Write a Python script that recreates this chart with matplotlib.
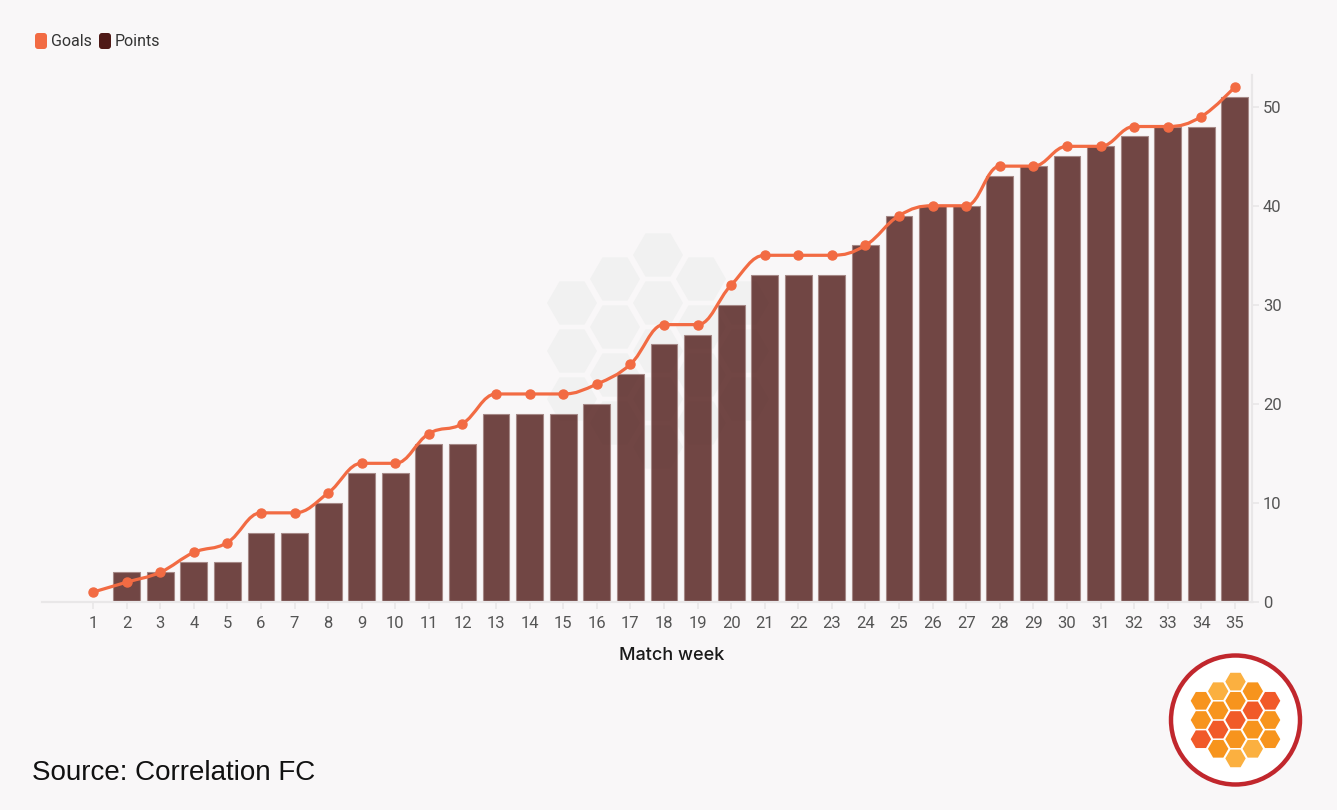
"""Cumulative goals and points by match week."""
import matplotlib
matplotlib.use("Agg")
import matplotlib.pyplot as plt
import numpy as np
from matplotlib.colors import to_rgba
from matplotlib.path import Path
from matplotlib.patches import PathPatch, RegularPolygon, Circle, FancyBboxPatch

weeks = list(range(1, 36))
points = [0, 3, 3, 4, 4, 7, 7, 10, 13, 13, 16, 16, 19, 19, 19, 20, 23, 26, 27, 30,
          33, 33, 33, 36, 39, 40, 40, 43, 44, 45, 46, 47, 48, 48, 51]
goals = [1, 2, 3, 5, 6, 9, 9, 11, 14, 14, 17, 18, 21, 21, 21, 22, 24, 28, 28, 32,
         35, 35, 35, 36, 39, 40, 40, 44, 44, 46, 46, 48, 48, 49, 52]
y_ticks = [0, 10, 20, 30, 40, 50]

BG = "#f9f7f8"
LINE = "#f26b43"
LEG_POINTS = "#4f1a17"


def spline_path(xs, ys, smoothing=1.5):
    """Highcharts-style spline through the points as a bezier path."""
    n = len(xs)
    lc = [(x, y) for x, y in zip(xs, ys)]
    rc = [(x, y) for x, y in zip(xs, ys)]
    denom = smoothing + 1
    for i in range(1, n - 1):
        px, py = xs[i], ys[i]
        lx, ly = xs[i - 1], ys[i - 1]
        nx, ny = xs[i + 1], ys[i + 1]
        lcx = (smoothing * px + lx) / denom
        lcy = (smoothing * py + ly) / denom
        rcx = (smoothing * px + nx) / denom
        rcy = (smoothing * py + ny) / denom
        if rcx != lcx:
            corr = (rcy - lcy) * (rcx - px) / (rcx - lcx) + py - rcy
            lcy += corr
            rcy += corr
            if lcy > ly and lcy > py:
                lcy = max(ly, py); rcy = 2 * py - lcy
            elif lcy < ly and lcy < py:
                lcy = min(ly, py); rcy = 2 * py - lcy
            if rcy > ny and rcy > py:
                rcy = max(ny, py); lcy = 2 * py - rcy
            elif rcy < ny and rcy < py:
                rcy = min(ny, py); lcy = 2 * py - rcy
        lc[i] = (lcx, lcy)
        rc[i] = (rcx, rcy)
    verts = [(xs[0], ys[0])]
    codes = [Path.MOVETO]
    for i in range(1, n):
        verts += [rc[i - 1], lc[i], (xs[i], ys[i])]
        codes += [Path.CURVE4] * 3
    return Path(verts, codes)


def honeycomb(ax, cx, cy, r, step_x, step_y, colors, **kw):
    """Logo honeycomb: 5 columns with 3,4,5,4,3 flat-topped hexagons."""
    counts = [3, 4, 5, 4, 3]
    k = 0
    for c, cnt in enumerate(counts):
        x = cx + (c - 2) * step_x
        for j in range(cnt):
            y = cy + (j - (cnt - 1) / 2) * step_y
            ax.add_patch(RegularPolygon((x, y), 6, radius=r, orientation=np.pi / 6,
                                        facecolor=colors[k], edgecolor="none", **kw))
            k += 1


fig = plt.figure(figsize=(13.37, 8.10), dpi=100, facecolor=BG)

# background layer (watermark)
bg_ax = fig.add_axes([0, 0, 1, 1], zorder=0)
bg_ax.set_xlim(0, 1337); bg_ax.set_ylim(810, 0); bg_ax.axis("off")
honeycomb(bg_ax, 658, 351, 25, 43, 48, ["#f1f1f1"] * 19)

ax = fig.add_axes([42 / 1337, 1 - 602 / 810, (1252 - 42) / 1337, (602 - 75) / 810], zorder=1)
ax.set_facecolor("none")

ax.bar(weeks, points, width=0.8, color=to_rgba(LEG_POINTS, 0.8), edgecolor="#a58886",
       linewidth=0.8, zorder=2)
ax.add_patch(PathPatch(spline_path(weeks, goals), facecolor="none", edgecolor=LINE,
                       linewidth=2.3, zorder=3, capstyle="round", joinstyle="round"))
ax.plot(weeks, goals, linestyle="none", marker="o", markersize=6.5, color=LINE, zorder=4)

ax.set_xlim(-0.52, 35.51)
ax.set_ylim(0, 53.2)
ax.set_xticks(weeks)
ax.set_xticklabels([str(w) for w in weeks])
ax.set_yticks(y_ticks)
ax.yaxis.tick_right()
for s in ["top", "left"]:
    ax.spines[s].set_visible(False)
ax.spines["bottom"].set_color("#e9e7e8"); ax.spines["bottom"].set_linewidth(1.6)
ax.spines["right"].set_color("#e9e7e8"); ax.spines["right"].set_linewidth(1.6)
ax.tick_params(axis="x", length=5, width=1.2, color="#e9e7e8", pad=5,
               labelsize=12, labelcolor="#555555")
ax.tick_params(axis="y", length=5, width=1.2, color="#e9e7e8", pad=3,
               labelsize=12, labelcolor="#555555")
for lab in ax.get_xticklabels() + ax.get_yticklabels():
    lab.set_fontfamily("Roboto")

# overlay: legend, texts, logo
top = fig.add_axes([0, 0, 1, 1], zorder=5)
top.set_xlim(0, 1337); top.set_ylim(810, 0); top.axis("off")
top.add_patch(FancyBboxPatch((35, 33), 12, 16, boxstyle="round,pad=0,rounding_size=3",
                             facecolor=LINE, edgecolor="none"))
top.text(51, 41, "Goals", fontsize=11.5, family="Roboto", color="#333333", va="center")
top.add_patch(FancyBboxPatch((99, 33), 12, 16, boxstyle="round,pad=0,rounding_size=3",
                             facecolor=LEG_POINTS, edgecolor="none"))
top.text(115, 41, "Points", fontsize=11.5, family="Roboto", color="#333333", va="center")

top.text(672, 655, "Match week", fontsize=13, family="Inter", color="#1a1a1a",
         ha="center", va="center", weight="medium")
top.text(32, 773, "Source: Correlation FC", fontsize=20, family="Liberation Sans",
         color="#111111", ha="left", va="center")

top.add_patch(Circle((1235.5, 720), 64.5, facecolor="white", edgecolor="#c1272d", linewidth=3.2))
logo_colors = ["#f7941d", "#f7941d", "#f15a29",
               "#fbb040", "#f7941d", "#f15a29", "#f7941d",
               "#fbb040", "#f7941d", "#f15a29", "#f7941d", "#fbb040",
               "#f7941d", "#f15a29", "#f7941d", "#fbb040",
               "#f15a29", "#f7941d", "#f7941d"]
honeycomb(top, 1235.5, 720, 10.2, 17.3, 19.2, logo_colors)

fig.savefig("out.png", dpi=100, facecolor=BG)
